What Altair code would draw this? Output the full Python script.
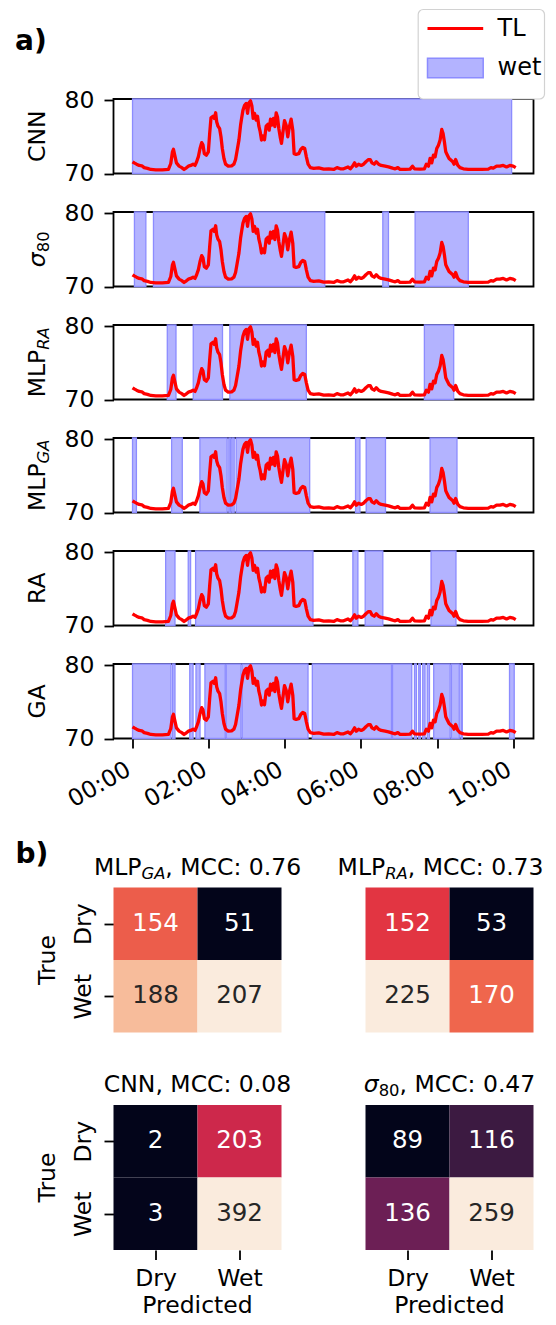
import altair as alt
import pandas as pd

FONT = "DejaVu Sans"
FS = 23.5
SUB_FS = 16.4
SUB_SHIFT = 4.0
TICK = 9.5

# ---------------- data ----------------
TIME_MIN = [0, 2.6, 6.3, 10.5, 14.7, 18.3, 23.6, 28.8, 36.7, 47,
            56.6, 60.3, 62.9, 64.5, 66.5, 69.2, 73.4, 77.6, 81.2, 84.9,
            88, 91.7, 95.4, 98.5, 101, 103.8, 106.4, 109, 111, 113.2,
            116.3, 119.5, 121.6, 123.7, 126.8, 128.9, 131, 132.6, 134.7, 137.3,
            139.4, 141.5, 144.1, 146.7, 150.9, 156.2, 159.8, 162.4, 165, 167.7,
            170.3, 171.9, 174, 176.6, 179.2, 181.3, 183.4, 186, 188.1, 190.2,
            192.3, 194.9, 197, 199.1, 201.2, 203.3, 205.4, 208, 210.6, 213.3,
            215.4, 217.5, 219.6, 222.2, 224.3, 226.4, 228.5, 230.6, 232.7, 234.8,
            236.8, 239.5, 242.1, 244.7, 247.3, 250, 252.6, 254.7, 257.8, 262,
            265.1, 268.3, 271.4, 274, 276.7, 280.3, 285.6, 293.4, 301.3, 309.2,
            317, 322.3, 327.5, 332.7, 339.6, 343.2, 346.9, 350, 352.7, 356.3,
            360.5, 364.2, 367.8, 372, 374.6, 377.3, 380.9, 384.1, 387.8, 392,
            398.2, 403.5, 409.8, 414, 418.2, 421.8, 429.7, 437.5, 441.2, 444.4,
            453.3, 460, 463.1, 466.4, 469, 471.6, 474.3, 476.9, 479.5, 482.2,
            484.8, 487.4, 489.5, 491.6, 493.7, 496.3, 498.9, 502.1, 504.7, 506.8,
            509.3, 512.5, 516.1, 521.4, 529.2, 539.7, 550.2, 560.7, 564.9, 568.6,
            573.8, 579, 584.3, 589.5, 594.7, 600, 604]
TL_DB = [71.6, 71.45, 71.27, 71.1, 71.05, 70.8, 70.7, 70.55, 70.5, 70.5,
         70.55, 71.36, 72.95, 73.3, 72.5, 71.45, 71.0, 70.8, 70.55, 70.77,
         71.0, 71.1, 71.27, 71.1, 71.6, 72.3, 73.4, 74.2, 73.9, 72.7,
         72.5, 72.95, 75.45, 77.6, 77.8, 77.5, 78.27, 77.05, 76.45, 76.1,
         75.0, 73.4, 72.05, 71.27, 71.0, 71.05, 71.27, 71.9, 73.2, 74.55,
         76.6, 77.5, 78.6, 79.3, 79.55, 78.2, 79.6, 79.9, 79.2, 77.5,
         78.2, 77.27, 77.8, 76.45, 75.7, 74.55, 75.1, 74.6, 76.45, 76.7,
         75.9, 77.4, 76.6, 77.5, 76.4, 78.27, 77.7, 76.1, 75.0, 74.1,
         75.45, 77.2, 76.6, 75.0, 76.4, 77.4, 75.9, 72.7, 72.6, 72.7,
         73.27, 73.55, 73.4, 72.27, 71.27, 70.8, 70.7, 70.77, 70.6, 70.64,
         70.55, 70.8, 70.64, 70.64, 70.9, 70.64, 71.0, 71.45, 71.0, 71.27,
         71.1, 71.27, 71.6, 71.9, 71.9, 71.45, 71.27, 71.6, 71.27, 71.1,
         71.0, 70.9, 70.73, 70.64, 70.8, 70.55, 70.55, 70.6, 71.0, 70.64,
         70.6, 70.64, 71.27, 71.0, 72.05, 71.45, 72.5, 72.27, 73.4, 73.86,
         74.55, 76.0, 75.45, 74.3, 72.95, 72.5, 72.05, 71.8, 71.6, 71.27,
         71.9, 71.14, 70.8, 70.64, 70.55, 70.55, 70.55, 70.6, 70.8, 70.73,
         71.0, 71.0, 71.1, 70.9, 71.1, 71.0, 70.8]

PANEL_MODELS = ["CNN", "sigma80", "MLP_RA", "MLP_GA", "RA", "GA"]
WET_START = {
    "CNN": [0],
    "sigma80": [3, 33, 394.5, 445.4],
    "MLP_RA": [54.8, 95.7, 153.4, 460],
    "MLP_GA": [0, 61.6, 106.2, 151.8, 156.5, 163.3, 351.5, 368.3, 469],
    "RA": [52.2, 87.8, 99.4, 347.3, 366.7, 470.5],
    "GA": [0, 63.2, 90.2, 100, 114.1, 147.7, 172.8, 283.4, 409.8, 444.4,
           451.1, 457.4, 464.5, 474.7, 502.6, 517.7, 594.2],
}
WET_END = {
    "CNN": [597.5],
    "sigma80": [21, 303, 403.4, 529.2],
    "MLP_RA": [68.5, 141.8, 273.9, 506.2],
    "MLP_GA": [6.1, 78.4, 149.1, 154.4, 160.2, 279.2, 358.4, 398.7, 511.4],
    "RA": [66.9, 91.5, 284.4, 355.2, 394.5, 509.8],
    "GA": [60.6, 66.9, 95.4, 106.4, 146.1, 171, 276.6, 408.2, 440.1, 447.5,
           453.7, 461, 468, 500.6, 515, 519.8, 601.6],
}
# label pieces: (text, kind) kind: n normal, i italic, s subscript, si italic subscript
MODEL_LABEL = {
    "CNN": [("CNN", "n")],
    "sigma80": [("σ", "i"), ("80", "s")],
    "MLP_RA": [("MLP", "n"), ("RA", "si")],
    "MLP_GA": [("MLP", "n"), ("GA", "si")],
    "RA": [("RA", "n")],
    "GA": [("GA", "n")],
}
LEGEND_LABELS = ["TL", "wet"]
X_TICKS_MIN = [0, 120, 240, 360, 480, 600]
Y_TICKS = [70, 80]
PANEL_TAGS = ["a)", "b)"]

HM_MODELS = ["MLP_GA", "MLP_RA", "CNN", "sigma80"]
HM_MCC = ["0.76", "0.73", "0.08", "0.47"]
HM_COL = [0, 3, 0, 3]
HM_ROW = [0, 0, 3, 3]
CLASSES = ["Dry", "Wet"]
HM_TRUE = ["Dry", "Dry", "Wet", "Wet"]
HM_PRED = ["Dry", "Wet", "Dry", "Wet"]
HM_COUNTS = {
    "MLP_GA": [154, 51, 188, 207],
    "MLP_RA": [152, 53, 225, 170],
    "CNN": [2, 203, 3, 392],
    "sigma80": [89, 116, 136, 259],
}
AXIS_TITLES = ["True", "Predicted"]

ROCKET = ["#03051a", "#35193e", "#701f57", "#ad1759",
          "#e13342", "#f37651", "#f6b48f", "#faebdd"]
SPAN_FILL = "#b3b3ff"
SPAN_EDGE = "#8c8cff"

# ---------------- helpers ----------------
EM = {'M': .863, 'L': .557, 'P': .603, 'C': .698, 'N': .748, 'R': .695,
      'A': .684, 'G': .775, 'σ': .634, ',': .318, ' ': .318, ':': .337, '.': .318}
for _d in "0123456789":
    EM[_d] = .636


def tw(s, fs):
    return sum(EM.get(c, .6) for c in s) * fs


def kind_style(k):
    if k == "n":
        return FS, "normal", 0.0
    if k == "i":
        return FS, "italic", 0.0
    if k == "s":
        return SUB_FS, "normal", SUB_SHIFT
    return SUB_FS, "italic", SUB_SHIFT


def rocket(f):
    f = min(max(f, 0.0), 1.0)
    pos = f * (len(ROCKET) - 1)
    i = min(int(pos), len(ROCKET) - 2)
    u = pos - i
    ca = [int(ROCKET[i][j:j + 2], 16) for j in (1, 3, 5)]
    cb = [int(ROCKET[i + 1][j:j + 2], 16) for j in (1, 3, 5)]
    c = [round(ca[k] + (cb[k] - ca[k]) * u) for k in range(3)]
    return "#%02x%02x%02x" % tuple(c)


def luminance(h):
    rgb = [int(h[j:j + 2], 16) / 255 for j in (1, 3, 5)]
    lin = [c / 12.92 if c <= 0.03928 else ((c + 0.055) / 1.055) ** 2.4 for c in rgb]
    return 0.2126 * lin[0] + 0.7152 * lin[1] + 0.0722 * lin[2]


def text_layer(txt, x, y, fs, style="normal", align="left", angle=0,
               baseline="alphabetic", weight="normal"):
    return alt.Chart(pd.DataFrame({"label": [txt]})).mark_text(
        align=align, baseline=baseline, angle=angle, fontSize=fs,
        fontStyle=style, fontWeight=weight, font=FONT, color="black"
    ).encode(text="label:N", x=alt.value(x), y=alt.value(y))


LBL_X = -69.0


def rot_label(parts, cy, xb=LBL_X):
    if len(parts) == 1:
        t, k = parts[0]
        fs, st, _ = kind_style(k)
        return [text_layer(t, xb, cy, fs, st, "center", 270)]
    (b, bk), (s, sk) = parts
    fb, stb, _ = kind_style(bk)
    fsb, sts, sh = kind_style(sk)
    wb, ws = tw(b, fb), tw(s, fsb)
    yj = cy + (wb + ws) / 2 - wb
    return [text_layer(b, xb, yj, fb, stb, "right", 270),
            text_layer(s, xb + sh, yj, fsb, sts, "left", 270)]


def h_title(parts, cx, yb, max_right=None):
    if len(parts) == 1:
        return [text_layer(parts[0][0], cx, yb, FS, "normal", "center")]
    widths = [tw(t, kind_style(k)[0]) for t, k in parts]
    total = sum(widths)
    left = cx - total / 2
    if max_right is not None and left + total > max_right:
        left = max_right - total
    x = left + widths[0]
    layers = []
    for idx, (t, k) in enumerate(parts):
        fs, st, sh = kind_style(k)
        if idx == 0:
            layers.append(text_layer(t, x, yb + sh, fs, st, "right"))
        else:
            layers.append(text_layer(t, x, yb + sh, fs, st, "left"))
            x += widths[idx]
    return layers


def legend_layers():
    """Legend box (TL line + wet patch) drawn above the first panel."""
    box = alt.Chart(pd.DataFrame({"label": ["box"]})).mark_rect(
        fill="white", stroke="#d2d2d2", strokeWidth=1.2, cornerRadius=5
    ).encode(x=alt.value(304.7), x2=alt.value(431), y=alt.value(-89.5), y2=alt.value(0))
    tl = alt.Chart(pd.DataFrame({"label": [LEGEND_LABELS[0]]})).mark_rule(
        stroke="red", strokeWidth=3
    ).encode(x=alt.value(314), x2=alt.value(369.7), y=alt.value(-70.5))
    wet = alt.Chart(pd.DataFrame({"label": [LEGEND_LABELS[1]]})).mark_rect(
        fill=SPAN_FILL, stroke=SPAN_EDGE, strokeWidth=1.5
    ).encode(x=alt.value(314), x2=alt.value(369.7), y=alt.value(-40.7), y2=alt.value(-21.3))
    labels = [text_layer(LEGEND_LABELS[0], 384, -70.5, 24, baseline="middle"),
              text_layer(LEGEND_LABELS[1], 384, -31, 24, baseline="middle")]
    return [box, tl, wet] + labels


# ---------------- panels a) ----------------
PW, PH = 420, 74.5
SPACING = 38
X_DOM = [-30, 632]
Y_DOM = [70.0, 80.15]

line_df = pd.DataFrame({"t": TIME_MIN, "tl": TL_DB})


def panel(i, model):
    first = i == 0
    last = i == len(PANEL_MODELS) - 1
    spans = pd.DataFrame({"start": WET_START[model], "end": WET_END[model]})
    xscale = alt.Scale(domain=X_DOM, nice=False, zero=False)
    yscale = alt.Scale(domain=Y_DOM, nice=False, zero=False)
    if last:
        xaxis = alt.Axis(values=X_TICKS_MIN,
                         labelExpr="format(datum.value / 60, '02d') + ':00'",
                         labelAngle=330, labelAlign="right", labelBaseline="top",
                         labelOffset=-10, labelPadding=9, tickSize=TICK, title=None,
                         grid=False, domain=False)
    else:
        xaxis = None
    yaxis = alt.Axis(values=Y_TICKS, title=None, tickSize=TICK, labelPadding=10,
                     grid=False, domain=False)

    rect = alt.Chart(spans).mark_rect(fill=SPAN_FILL, stroke=SPAN_EDGE, strokeWidth=1.3).encode(
        x=alt.X("start:Q", scale=xscale, axis=xaxis), x2="end:Q")
    line = alt.Chart(line_df).mark_line(strokeWidth=3.3, strokeJoin="round", stroke="red").encode(
        x=alt.X("t:Q", scale=xscale, axis=xaxis),
        y=alt.Y("tl:Q", scale=yscale, axis=yaxis))
    layers = [rect, line] + rot_label(MODEL_LABEL[model], PH / 2)
    if first:
        layers.append(text_layer(PANEL_TAGS[0], -98.5, -57, 28, "normal", "left",
                                 baseline="middle", weight="bold"))
        layers += legend_layers()
    return alt.layer(*layers).properties(width=PW, height=PH)


# ---------------- heatmaps b) : one chart on a 5x5 unit grid ----------------
CELL_W, CELL_H = 84, 72.5
TOP_BLANK = 110.5          # px of empty space above the first heatmap row
HM_W = 5 * CELL_W
HM_H = 5 * CELL_H + TOP_BLANK

cells = []
for k, name in enumerate(HM_MODELS):
    counts = HM_COUNTS[name]
    lo, hi = min(counts), max(counts)
    for tr, pr, n in zip(HM_TRUE, HM_PRED, counts):
        cx = HM_COL[k] + CLASSES.index(pr)
        cy = HM_ROW[k] + CLASSES.index(tr)
        f = rocket((n - lo) / (hi - lo))
        cells.append(dict(x0=cx, x1=cx + 1, y0=cy, y1=cy + 1, xc=cx + 0.5, yc=cy + 0.5,
                          n=n, fillc=f,
                          textc="#262626" if luminance(f) > 0.408 else "white"))
hm_df = pd.DataFrame(cells)

hx = alt.Scale(domain=[0, 5], nice=False, zero=False)
hy = alt.Scale(domain=[-TOP_BLANK / CELL_H, 5], nice=False, zero=False, reverse=True)
hxaxis = alt.Axis(values=[0.5, 1.5, 3.5, 4.5],
                  labelExpr="(datum.value % 3) < 1 ? 'Dry' : 'Wet'",
                  labelAngle=0, tickSize=TICK, labelPadding=7, title=None,
                  domain=False, grid=False)
hyaxis = alt.Axis(values=[0.5, 1.5, 3.5, 4.5],
                  labelExpr="(datum.value % 3) < 1 ? 'Dry' : 'Wet'",
                  labelAngle=270, labelAlign="center", labelBaseline="bottom",
                  tickSize=TICK, labelPadding=9, title=None, domain=False, grid=False)

hm_rect = alt.Chart(hm_df).mark_rect().encode(
    x=alt.X("x0:Q", scale=hx, axis=hxaxis), x2="x1:Q",
    y=alt.Y("y0:Q", scale=hy, axis=hyaxis), y2="y1:Q",
    fill=alt.Fill("fillc:N", scale=None))
hm_text = alt.Chart(hm_df).mark_text(fontSize=24.5, font=FONT, align="center",
                                     baseline="middle").encode(
    x=alt.X("xc:Q", scale=hx, axis=hxaxis),
    y=alt.Y("yc:Q", scale=hy, axis=hyaxis),
    text="n:Q", color=alt.Color("textc:N", scale=None))

hm_layers = [hm_rect, hm_text]
for k, name in enumerate(HM_MODELS):
    cx = HM_COL[k] * CELL_W + CELL_W
    top = TOP_BLANK + HM_ROW[k] * CELL_H
    if name == "CNN":
        parts = [("CNN, MCC: " + HM_MCC[k], "n")]
    else:
        parts = MODEL_LABEL[name] + [(", MCC: " + HM_MCC[k], "n")]
    hm_layers += h_title(parts, cx, top - 13, max_right=430)
    if HM_COL[k] == 0:
        hm_layers.append(text_layer(AXIS_TITLES[0], -59, top + CELL_H, FS, "normal",
                                    "center", 270))
    if HM_ROW[k] == 3:
        hm_layers.append(text_layer(AXIS_TITLES[1], cx, HM_H + 63, FS, "normal", "center"))
hm_layers.append(text_layer(PANEL_TAGS[1], -98, TOP_BLANK - 32.5, 28, "normal", "left",
                            baseline="middle", weight="bold"))
hm_chart = alt.layer(*hm_layers).properties(
    width=HM_W, height=HM_H, view=alt.ViewBackground(stroke="transparent"))

chart = alt.vconcat(*[panel(i, m) for i, m in enumerate(PANEL_MODELS)], hm_chart,
                    spacing=SPACING, bounds="flush").properties(
    padding={"left": 5.5, "top": 0, "right": 0, "bottom": 0},
    background="white",
).configure_axis(
    labelFont=FONT, titleFont=FONT, labelFontSize=FS, titleFontSize=FS,
    labelColor="black", titleColor="black", titleFontWeight="normal",
    tickColor="black", tickWidth=1.8, grid=False, domain=False,
).configure_view(stroke="black", strokeWidth=1.8)

chart.save("out.html", embed_options={"renderer": "svg", "actions": False})
